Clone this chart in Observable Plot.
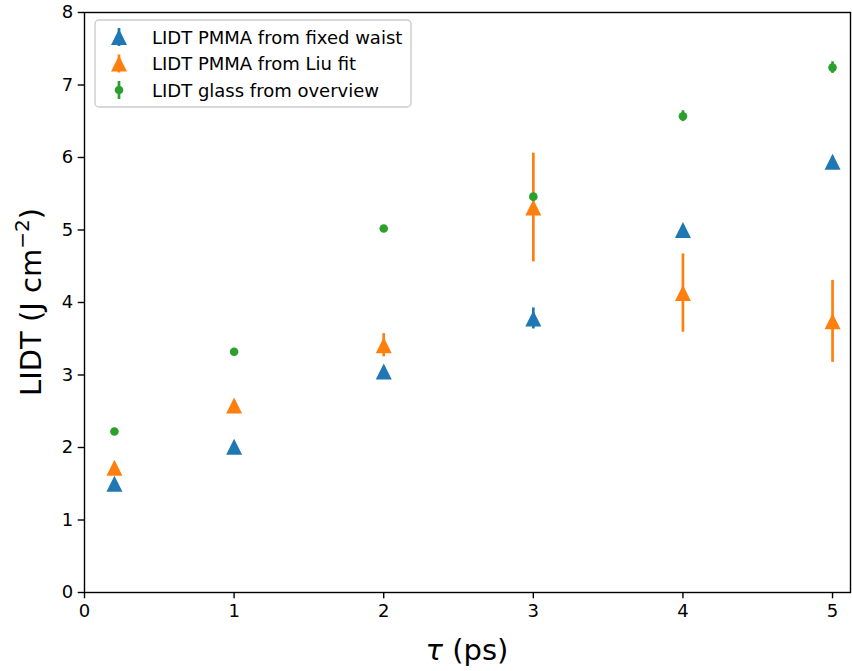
<!DOCTYPE html>
<html><head><meta charset="utf-8">
<script src="https://cdn.jsdelivr.net/npm/d3@7"></script>
<script src="https://cdn.jsdelivr.net/npm/@observablehq/plot@0.6"></script>
<style>body{margin:0;background:#fff}</style>
</head><body><div id="chart"></div>
<script>
// ---- data ----
const tau = [0.2, 1, 2, 3, 4, 5];
const fixedWaist = [1.50, 2.01, 3.05, 3.78, 5.00, 5.94];
const fixedWaistErr = [0.03, 0.04, 0.05, 0.145, 0.06, 0.07];
const liuFit = [1.72, 2.58, 3.41, 5.31, 4.13, 3.74];
const liuFitErr = [0.05, 0.06, 0.16, 0.75, 0.54, 0.565];
const glass = [2.22, 3.32, 5.02, 5.46, 6.57, 7.24];
const glassErr = [0.04, 0.03, 0.04, 0.04, 0.075, 0.08];
const seriesNames = ["LIDT PMMA from fixed waist", "LIDT PMMA from Liu fit", "LIDT glass from overview"];
const colors = ["#1f77b4", "#ff7f0e", "#2ca02c"];
const xTicks = [0, 1, 2, 3, 4, 5];
const yTicks = [0, 1, 2, 3, 4, 5, 6, 7, 8];

const build = (ys, es) => tau.map((t, i) => ({t, v: ys[i], lo: ys[i] - es[i], hi: ys[i] + es[i]}));
const sets = [build(fixedWaist, fixedWaistErr), build(liuFit, liuFitErr), build(glass, glassErr)];

const tri = {draw(ctx, size) { const s = Math.sqrt(size / Math.PI); ctx.moveTo(0, -s); ctx.lineTo(s, s); ctx.lineTo(-s, s); ctx.closePath(); }};
const FONT = "DejaVu Sans, sans-serif";
const LW = 2.7;

const marks = [];
sets.forEach((d, k) => {
  marks.push(Plot.ruleX(d, {x: "t", y1: "lo", y2: "hi", stroke: colors[k], strokeWidth: LW}));
  if (k < 2) marks.push(Plot.dot(d, {x: "t", y: "v", symbol: tri, r: 8, fill: colors[k], stroke: "none"}));
  else marks.push(Plot.dot(d, {x: "t", y: "v", r: 4.3, fill: colors[k], stroke: "none"}));
});

const fmt = d3.format("d");
const chart = Plot.plot({
  width: 852, height: 671,
  marginLeft: 84, marginRight: 2, marginTop: 12, marginBottom: 79,
  style: {fontFamily: FONT, background: "#fff", color: "#000"},
  x: {domain: [0, 5.12], ticks: xTicks, label: null},
  y: {domain: [0, 8], ticks: yTicks, label: null},
  marks: [
    ...marks,
    Plot.axisX({ticks: xTicks, tickFormat: fmt, tickSize: 6.3, tickPadding: 5, fontSize: 18, label: null, strokeWidth: 1.4}),
    Plot.axisY({ticks: yTicks, tickFormat: fmt, tickSize: 6.3, tickPadding: 5, fontSize: 18, label: null, strokeWidth: 1.4}),
    Plot.frame({stroke: "#000", strokeWidth: 1.4})
  ]
});
document.getElementById("chart").appendChild(chart);

const svg = d3.select(chart);
// y label
const yl = svg.append("text")
  .attr("transform", "translate(41,302) rotate(-90)")
  .attr("text-anchor", "middle")
  .style("font-family", FONT).style("font-size", "29px").attr("fill", "#000");
yl.append("tspan").text("LIDT (J cm");
yl.append("tspan").attr("dy", -12).style("font-size", "20px").text("−2");
yl.append("tspan").attr("dy", 12).text(")");
// x label
const xl = svg.append("text")
  .attr("x", 467).attr("y", 660).attr("text-anchor", "middle")
  .style("font-family", FONT).style("font-size", "29px").attr("fill", "#000");
xl.append("tspan").style("font-style", "italic").text("τ");
xl.append("tspan").text(" (ps)");

// legend
const lg = svg.append("g").attr("text-anchor", "start");
lg.append("rect").attr("x", 95).attr("y", 20).attr("width", 316).attr("height", 87).attr("rx", 4)
  .attr("fill", "#fff").attr("fill-opacity", 0.8).attr("stroke", "#cccccc").attr("stroke-width", 1.4);
seriesNames.forEach((name, k) => {
  const cy = 37 + k * 26.5;
  lg.append("line").attr("x1", 119).attr("x2", 119).attr("y1", cy - 9).attr("y2", cy + 9)
    .attr("stroke", colors[k]).attr("stroke-width", LW);
  if (k < 2) lg.append("path").attr("d", `M119,${cy - 8}L127,${cy + 8}L111,${cy + 8}Z`).attr("fill", colors[k]);
  else lg.append("circle").attr("cx", 119).attr("cy", cy).attr("r", 4.3).attr("fill", colors[k]);
  lg.append("text").attr("x", 152).attr("y", cy + 6.5).attr("text-anchor", "start")
    .style("font-family", FONT).style("font-size", "18px").attr("fill", "#000").text(name);
});
</script>
</body></html>
